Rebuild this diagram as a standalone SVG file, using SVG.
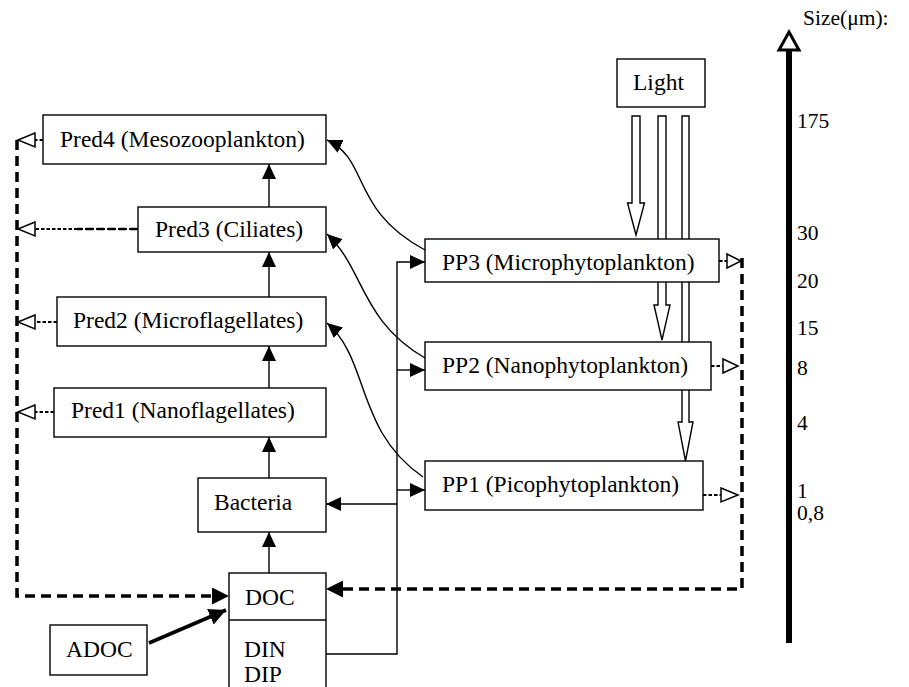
<svg xmlns="http://www.w3.org/2000/svg" width="909" height="687" viewBox="0 0 909 687">
  <style>
    .box { fill: #fff; stroke: #000; stroke-width: 1.4; }
    text { font-family: 'Liberation Serif', 'Times New Roman', Times, 'DejaVu Serif', serif; fill: #000; }
    .lbl { font-size: 23.5px; }
    .axis { font-size: 21.5px; }
    .flow { fill: none; stroke: #000; stroke-width: 1.4; }
    .loss { fill: none; stroke: #000; stroke-width: 3.5; stroke-dasharray: 10 6; }
    .dot { fill: none; stroke: #000; stroke-width: 2; stroke-dasharray: 3.5 2; }
    .dash { fill: none; stroke: #000; stroke-width: 2.6; stroke-dasharray: 7 4; }
    .open { fill: #fff; stroke: #000; stroke-width: 1.5; }
    .light { fill: #fff; stroke: #000; stroke-width: 1.4; }
  </style>
  <defs>
    <marker id="arr" markerUnits="userSpaceOnUse" markerWidth="15" markerHeight="14" viewBox="0 0 15 14" refX="15" refY="7" orient="auto">
      <path d="M0,0 L15,7 L0,14 Z" fill="#000"/>
    </marker>
    <marker id="arrBig" markerUnits="userSpaceOnUse" markerWidth="17" markerHeight="17" viewBox="0 0 17 17" refX="17" refY="8.5" orient="auto">
      <path d="M0,0 L17,8.5 L0,17 Z" fill="#000"/>
    </marker>
  </defs>

  <!-- light beams (drawn under the boxes) -->
  <g id="light-beams">
    <path class="light" d="M632,116 H640 V203 H644.5 L636,235 L627.5,203 H632 Z"/>
    <path class="light" d="M658,116 H666 V305 H670 L662,340 L654,305 H658 Z"/>
    <path class="light" d="M682,116 H689 V422 H693 L685.5,461 L678,422 H682 Z"/>
  </g>

  <g id="connectors">
    <!-- grazing chain -->
    <line class="flow" x1="269" y1="207" x2="269" y2="164" marker-end="url(#arr)"/>
    <line class="flow" x1="269" y1="297" x2="269" y2="252" marker-end="url(#arr)"/>
    <line class="flow" x1="269" y1="388" x2="269" y2="346" marker-end="url(#arr)"/>
    <line class="flow" x1="269" y1="478" x2="269" y2="437" marker-end="url(#arr)"/>
    <line class="flow" x1="269" y1="573" x2="269" y2="532" marker-end="url(#arr)"/>

    <!-- grazing on phytoplankton -->
    <path class="flow" d="M425,250 C350,210 370,160 327,140" marker-end="url(#arr)"/>
    <path class="flow" d="M425,358 C360,320 365,270 327,234" marker-end="url(#arr)"/>
    <path class="flow" d="M423,477 C355,430 370,360 327,323" marker-end="url(#arr)"/>

    <!-- nutrient supply -->
    <path class="flow" d="M326,654 H397 V262 H425" marker-end="url(#arr)"/>
    <line class="flow" x1="397" y1="370" x2="425" y2="370" marker-end="url(#arr)"/>
    <line class="flow" x1="397" y1="490" x2="425" y2="490" marker-end="url(#arr)"/>
    <line class="flow" x1="397" y1="504" x2="326" y2="504" marker-end="url(#arr)"/>

    <!-- external DOC input -->
    <line x1="149" y1="643" x2="226" y2="610" stroke="#000" stroke-width="3.6" marker-end="url(#arrBig)"/>

    <!-- losses back to DOC -->
    <path class="loss" d="M17,140 V596 H212"/>
    <path d="M212,596 H229" stroke="none" marker-end="url(#arrBig)"/>
    <path class="loss" d="M742,258 V589 H343"/>
    <path d="M343,589 H326" stroke="none" marker-end="url(#arrBig)"/>

    <!-- predator losses -->
    <line class="dot" x1="43" y1="140" x2="35" y2="140"/>
    <path class="open" d="M35,133 L18,140 L35,147 Z"/>
    <line class="dot" x1="138" y1="229" x2="35" y2="229"/>
    <line class="dash" x1="137" y1="229" x2="77" y2="229"/>
    <path class="open" d="M35,222 L18,229 L35,236 Z"/>
    <line class="dot" x1="57" y1="322" x2="35" y2="322"/>
    <path class="open" d="M35,315 L18,322 L35,329 Z"/>
    <line class="dot" x1="54" y1="412" x2="35" y2="412"/>
    <path class="open" d="M35,405 L18,412 L35,419 Z"/>

    <!-- phytoplankton losses -->
    <line class="dot" x1="719" y1="261" x2="727" y2="261"/>
    <path class="open" d="M727,254 L741,261 L727,268 Z"/>
    <line class="dot" x1="711" y1="366" x2="723" y2="366"/>
    <path class="open" d="M723,359 L738,366 L723,373 Z"/>
    <line class="dot" x1="703" y1="495" x2="721" y2="495"/>
    <path class="open" d="M721,488 L738,495 L721,502 Z"/>
  </g>

  <g id="pred4"><rect class="box" x="43" y="115" width="283" height="49"/><text class="lbl" x="60" y="147">Pred4 (Mesozooplankton)</text></g>
  <g id="pred3"><rect class="box" x="138" y="207" width="188" height="45"/><text class="lbl" x="155" y="237">Pred3 (Ciliates)</text></g>
  <g id="pred2"><rect class="box" x="57" y="297" width="269" height="49"/><text class="lbl" x="73" y="328">Pred2 (Microflagellates)</text></g>
  <g id="pred1"><rect class="box" x="54" y="388" width="272" height="49"/><text class="lbl" x="71" y="418">Pred1 (Nanoflagellates)</text></g>
  <g id="bacteria"><rect class="box" x="198" y="478" width="128" height="54"/><text class="lbl" x="214" y="510">Bacteria</text></g>
  <g id="doc">
    <rect class="box" x="229" y="573" width="97" height="130"/>
    <line x1="229" y1="620" x2="326" y2="620" stroke="#000" stroke-width="1.4"/>
    <text class="lbl" x="245" y="605">DOC</text>
    <text class="lbl" x="244" y="657">DIN</text>
    <text class="lbl" x="244" y="682">DIP</text>
  </g>
  <g id="adoc"><rect class="box" x="50" y="625" width="97" height="50"/><text class="lbl" x="66" y="657">ADOC</text></g>
  <g id="light"><rect class="box" x="617" y="59" width="88" height="48"/><text class="lbl" x="633" y="90">Light</text></g>
  <g id="pp3"><rect class="box" x="425" y="239" width="294" height="43"/><text class="lbl" x="442" y="270">PP3 (Microphytoplankton)</text></g>
  <g id="pp2"><rect class="box" x="425" y="342" width="286" height="48"/><text class="lbl" x="442" y="373">PP2 (Nanophytoplankton)</text></g>
  <g id="pp1"><rect class="box" x="425" y="461" width="278" height="49"/><text class="lbl" x="442" y="492">PP1 (Picophytoplankton)</text></g>

  <g id="size-axis">
    <line x1="789" y1="50" x2="789" y2="643" stroke="#000" stroke-width="6"/>
    <path d="M789,32 L799,50 L779,50 Z" fill="#fff" stroke="#000" stroke-width="3"/>
    <text class="axis" x="803" y="25">Size(μm):</text>
    <text class="axis" x="797" y="128">175</text>
    <text class="axis" x="797" y="240">30</text>
    <text class="axis" x="797" y="288">20</text>
    <text class="axis" x="797" y="335">15</text>
    <text class="axis" x="797" y="375">8</text>
    <text class="axis" x="797" y="430">4</text>
    <text class="axis" x="797" y="498">1</text>
    <text class="axis" x="797" y="520">0,8</text>
  </g>
</svg>
